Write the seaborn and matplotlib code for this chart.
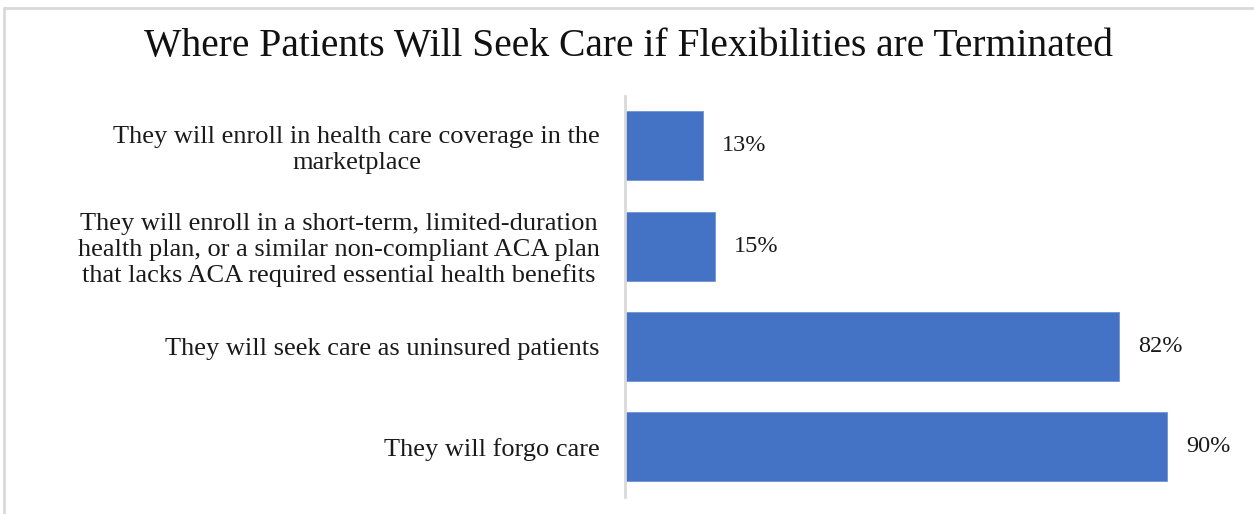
import matplotlib
matplotlib.use("Agg")
import matplotlib.pyplot as plt
import seaborn as sns
import pandas as pd
from matplotlib.lines import Line2D

categories = [
    "They will enroll in health care coverage in the\nmarketplace",
    "They will enroll in a short-term, limited-duration\nhealth plan, or a similar non-compliant ACA plan\nthat lacks ACA required essential health benefits",
    "They will seek care as uninsured patients",
    "They will forgo care",
]
values = [13, 15, 82, 90]
value_labels = ["13%", "15%", "82%", "90%"]
title = "Where Patients Will Seek Care if Flexibilities are Terminated"

df = pd.DataFrame({"category": categories, "value": values})

sns.set_theme(style="white")
plt.rcParams["font.family"] = ["Liberation Serif", "DejaVu Serif"]

fig = plt.figure(figsize=(12.54, 5.14), dpi=100)
ax = fig.add_axes([0.4984, 0.033, 0.4806, 0.781])

sns.barplot(data=df, x="value", y="category", color="#4472C4", saturation=1,
            width=0.69, ax=ax, orient="h")
for p in ax.patches:
    p.set_edgecolor("#6E93D6")
    p.set_linewidth(0.6)

ax.set_xlim(0, 100)
ax.set_ylim(3.5, -0.5)
ax.set_xlabel("")
ax.set_ylabel("")
ax.set_xticks([])
ax.tick_params(axis="y", length=0, pad=18, labelsize=19, labelcolor="#1a1a1a")
for lbl in ax.get_yticklabels():
    lbl.set_horizontalalignment("right")
    lbl.set_multialignment("center")
    lbl.set_linespacing(1.2)

for s in ["top", "right", "bottom"]:
    ax.spines[s].set_visible(False)
ax.spines["left"].set_color("#D9D9D9")
ax.spines["left"].set_linewidth(2)

for i, (v, t) in enumerate(zip(values, value_labels)):
    ax.text(v + 3.1, i, t, va="center", ha="left", fontsize=17.5, color="#1a1a1a")

fig.text(0.501, 0.91, title, ha="center", va="center", fontsize=28.5, color="#111111")

# outer light border (left and top visible)
fig.add_artist(Line2D([0.0028, 0.0028], [0, 0.984], transform=fig.transFigure,
                      color="#D9D9D9", linewidth=2))
fig.add_artist(Line2D([0.0028, 1.0], [0.984, 0.984], transform=fig.transFigure,
                      color="#D9D9D9", linewidth=2))

fig.savefig("out.png", dpi=100)
